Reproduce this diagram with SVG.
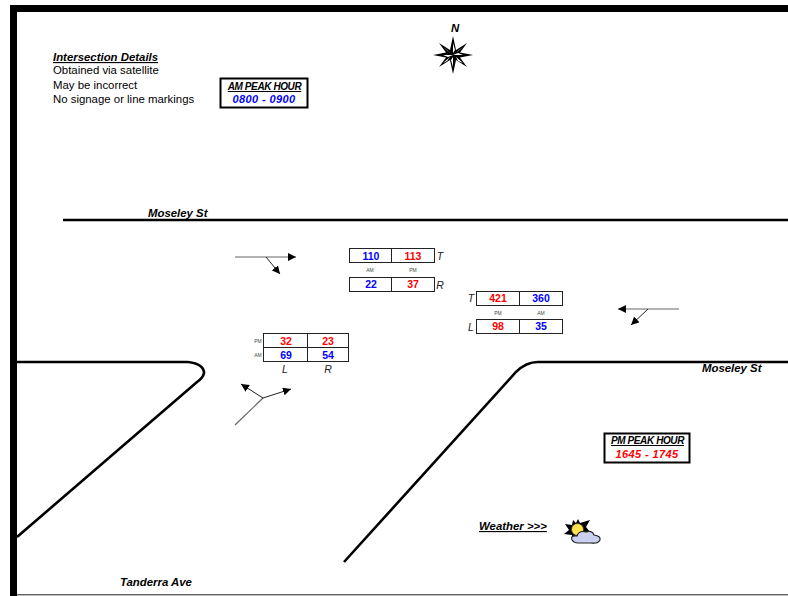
<svg xmlns="http://www.w3.org/2000/svg" width="788" height="596" viewBox="0 0 788 596">
<defs>
<marker id="ah" markerUnits="userSpaceOnUse" markerWidth="9" markerHeight="8" refX="8" refY="4" orient="auto"><path d="M0 0L8 4L0 8Z" fill="#000"/></marker>
</defs>
<style>
text{font-family:"Liberation Sans",Arial,sans-serif;fill:#000}
.lb{font-size:11.4px;font-weight:bold;font-style:italic}
.d{font-size:11.4px}
.n{font-size:10.500px;font-weight:bold;text-anchor:middle}
.b{fill:#0000ff}.r{fill:#ff0000}
.s{font-size:5px;fill:#444;text-anchor:middle}
.m{font-size:10.500px;font-style:italic;fill:#222;text-anchor:middle}
.road{fill:none;stroke:#000;stroke-width:2.600}
.fl{fill:none;stroke:#666;stroke-width:1.200}
.tn{fill:none;stroke:#222;stroke-width:1}
.cell{fill:#fff;stroke:#222;stroke-width:1}
.pk{fill:#fff;stroke:#000;stroke-width:2}
.pt{font-size:10px;font-weight:bold;font-style:italic;text-anchor:middle;letter-spacing:-.4px}
.pv{font-size:11px;font-weight:bold;font-style:italic;text-anchor:middle;letter-spacing:.4px}
</style>
<rect width="788" height="596" fill="#fff"/>
<path id="frame" d="M788 8.500H13.500V596" fill="none" stroke="#000" stroke-width="7"/>
<path d="M17 594.800H788" stroke="#222" stroke-width="1"/>
<g id="roads">
<path class="road" d="M63 220H788"/>
<path class="road" d="M17 362H188Q204 364 204 373Q203 378 197 382L17 537"/>
<path class="road" d="M344 562L516 372Q526 362 538 362H788"/>
</g>
<g id="connectors">
<path class="fl" d="M235 257H296" marker-end="url(#ah)"/>
<path class="tn" d="M266 257L280 274" marker-end="url(#ah)"/>
<path class="fl" d="M679 309H618" marker-end="url(#ah)"/>
<path class="tn" d="M648 309L631 325" marker-end="url(#ah)"/>
<path class="fl" d="M235 425L263 398"/>
<path class="tn" d="M263 398L241 384" marker-end="url(#ah)"/>
<path class="tn" d="M263 398L291 389" marker-end="url(#ah)"/>
</g>
<g id="intersection-details">
<text x="53" y="61" class="lb" text-decoration="underline">Intersection Details</text>
<text x="53" y="74" class="d">Obtained via satellite</text>
<text x="53" y="89" class="d">May be incorrect</text>
<text x="53" y="103" class="d">No signage or line markings</text>
</g>
<g id="am-peak">
<rect x="220.500" y="78.500" width="87" height="29" class="pk"/>
<text x="264.500" y="90" class="pt" text-decoration="underline">AM PEAK HOUR</text>
<text x="264" y="103" class="pv b">0800 - 0900</text>
</g>
<g id="north">
<text x="455" y="32" class="lb" text-anchor="middle">N</text>
<path d="M453 36L456 50L467 43L460 52.500L473 55L460 57.500L467 67L456 60L453 74L450 60L439 67L446 57.500L433 55L446 52.500L439 43L450 50Z" fill="#000"/>
<path d="M453 43L453 53L455 50ZM463 55L453 55L458 53ZM453 67L453 57L451 60ZM443 55L453 55L448 57Z" fill="#fff"/>
<path d="M463 47L456 53L459 50ZM463 63L456 57L458 61ZM443 63L450 57L447 61ZM443 47L450 53L447 50Z" fill="#fff"/>
</g>
<g id="label-moseley-w"><text x="148" y="217" class="lb">Moseley St</text></g>
<g id="label-moseley-e"><text x="702" y="372" class="lb">Moseley St</text></g>
<g id="label-tanderra"><text x="120" y="586" class="lb">Tanderra Ave</text></g>
<g id="table-north">
<rect x="349.500" y="248.500" width="85" height="14" class="cell"/><path d="M391.500 248.500V262.500" class="tn"/>
<rect x="349.500" y="277.500" width="85" height="14" class="cell"/><path d="M391.500 277.500V291.500" class="tn"/>
<text x="371" y="259.500" class="n b">110</text><text x="413" y="259.500" class="n r">113</text>
<text x="371" y="288" class="n b">22</text><text x="413" y="288" class="n r">37</text>
<text x="370" y="272" class="s">AM</text><text x="413" y="272" class="s">PM</text>
<text x="440" y="260" class="m">T</text><text x="440" y="289" class="m">R</text>
</g>
<g id="table-east">
<rect x="476.500" y="291.500" width="86" height="14" class="cell"/><path d="M519.500 291.500V305.500" class="tn"/>
<rect x="476.500" y="319.500" width="86" height="14" class="cell"/><path d="M519.500 319.500V333.500" class="tn"/>
<text x="498" y="302" class="n r">421</text><text x="541" y="302" class="n b">360</text>
<text x="498" y="330" class="n r">98</text><text x="541" y="330" class="n b">35</text>
<text x="498" y="315" class="s">PM</text><text x="541" y="315" class="s">AM</text>
<text x="471" y="302" class="m">T</text><text x="471" y="331" class="m">L</text>
</g>
<g id="table-south">
<rect x="263.500" y="333.500" width="85" height="14" class="cell"/>
<rect x="263.500" y="347.500" width="85" height="14" class="cell"/>
<path d="M307.500 333.500V361.500" class="tn"/>
<text x="286" y="344.500" class="n r">32</text><text x="328" y="344.500" class="n r">23</text>
<text x="286" y="358.500" class="n b">69</text><text x="328" y="358.500" class="n b">54</text>
<text x="258" y="343" class="s">PM</text><text x="258" y="357" class="s">AM</text>
<text x="285" y="373" class="m">L</text><text x="328" y="373" class="m">R</text>
</g>
<g id="pm-peak">
<rect x="604.500" y="433.500" width="85" height="29" class="pk"/>
<text x="647.500" y="444" class="pt" text-decoration="underline">PM PEAK HOUR</text>
<text x="647" y="458" class="pv r">1645 - 1745</text>
</g>
<g id="weather">
<text x="479" y="530" class="lb" text-decoration="underline">Weather &gt;&gt;&gt;</text>
<path d="M578 519L580 523L590 520L586 527L590 532L584 535L572 539L572 535L564 534L569 530L565 524L572 525L573 520L576 523Z" fill="#000"/>
<circle cx="577.500" cy="529.500" r="6" fill="#ffe24d" stroke="#333" stroke-width=".8"/>
<path d="M572 540Q570 535 577 536Q579 530 586 532Q592 530 594 535Q601 536 600 540Q598 544 591 543H578Q574 543 572 540Z" fill="#ccd0f0" stroke="#222" stroke-width="1.200"/>
</g>
</svg>
